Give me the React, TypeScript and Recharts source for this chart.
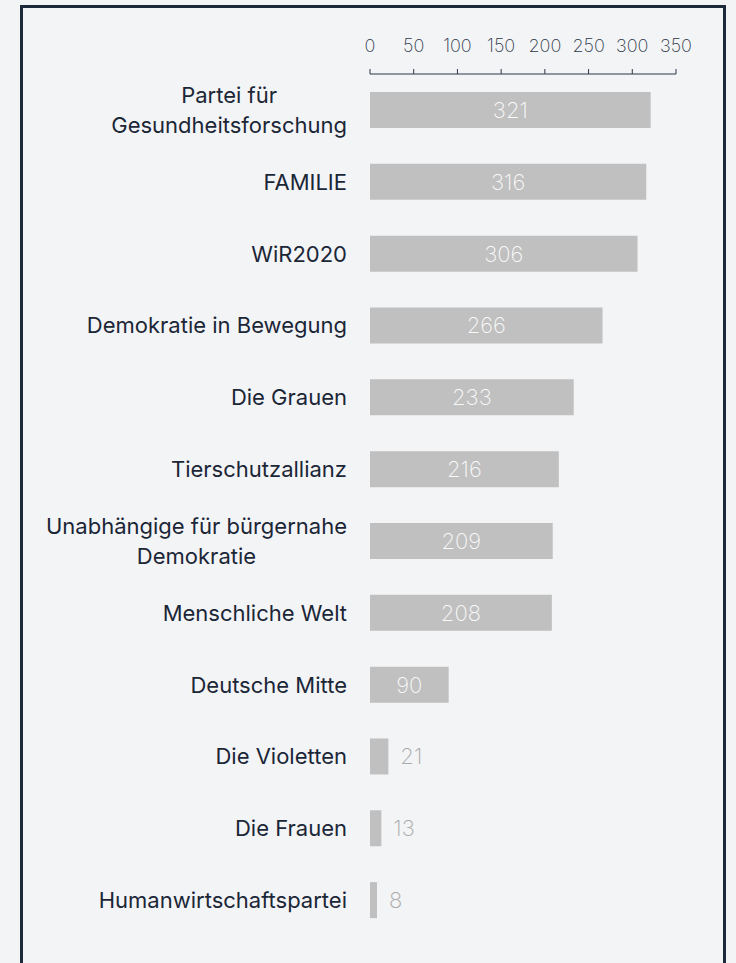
import React from 'react';
import { BarChart, Bar, XAxis, YAxis, LabelList } from 'recharts';

const parties = [
  'Partei für\nGesundheitsforschung',
  'FAMILIE',
  'WiR2020',
  'Demokratie in Bewegung',
  'Die Grauen',
  'Tierschutzallianz',
  'Unabhängige für bürgernahe\nDemokratie',
  'Menschliche Welt',
  'Deutsche Mitte',
  'Die Violetten',
  'Die Frauen',
  'Humanwirtschaftspartei',
];
const votes = [321, 316, 306, 266, 233, 216, 209, 208, 90, 21, 13, 8];
const axisTicks = [0, 50, 100, 150, 200, 250, 300, 350];

const data = parties.map((name, i) => ({ name, votes: votes[i] }));

const FONT = 'Inter, "Noto Sans", sans-serif';
const LABEL_SIZE = 22;
const LINE_H = 30;
const DARK = '#1b2636';

let ctx: CanvasRenderingContext2D | null = null;
const measure = (s: string) => {
  if (!ctx) ctx = document.createElement('canvas').getContext('2d');
  if (!ctx) return s.length * LABEL_SIZE * 0.55;
  ctx.font = `400 ${LABEL_SIZE}px Inter`;
  return ctx.measureText(s).width;
};

const PartyTick = ({ x, y, payload }: any) => {
  const lines: string[] = String(payload.value).split('\n');
  const capShift = LABEL_SIZE * 0.36;
  if (lines.length === 1) {
    return (
      <text x={x} y={y + capShift} textAnchor="end" fill={DARK} fontSize={LABEL_SIZE} fontFamily={FONT}>
        {lines[0]}
      </text>
    );
  }
  const blockW = Math.max(...lines.map(measure));
  const cx = x - blockW / 2;
  const startY = y - ((lines.length - 1) * LINE_H) / 2 + capShift;
  return (
    <text textAnchor="middle" fill={DARK} fontSize={LABEL_SIZE} fontFamily={FONT}>
      {lines.map((l, i) => (
        <tspan key={i} x={cx} y={startY + i * LINE_H}>
          {l}
        </tspan>
      ))}
    </text>
  );
};

const ValueLabel = ({ x, y, width, height, value }: any) => {
  const inside = width > 40;
  return (
    <text
      x={inside ? x + width / 2 : x + width + 12}
      y={y + height / 2 + 8}
      textAnchor={inside ? 'middle' : 'start'}
      fill={inside ? '#f9f9f9' : '#a9a9a9'}
      fontSize={22}
      fontWeight={200}
      fontFamily={FONT}
    >
      {value}
    </text>
  );
};

export default function App() {
  return (
    <div style={{ position: 'fixed', left: 0, top: 0, width: 736, height: 963, background: '#f3f4f6', overflow: 'hidden' }}>
      <div
        style={{
          position: 'absolute',
          left: 20,
          top: 5,
          width: 706,
          height: 1000,
          boxSizing: 'border-box',
          border: '3px solid #1c2a3a',
        }}
      />
      <div style={{ position: 'absolute', left: 0, top: 0 }}>
        <BarChart
          layout="vertical"
          width={736}
          height={963}
          data={data}
          margin={{ top: 0, right: 60, bottom: 27, left: 0 }}
          barCategoryGap="25%"
        >
          <XAxis
            type="number"
            orientation="top"
            domain={[0, 350]}
            ticks={axisTicks}
            interval={0}
            height={74}
            tickSize={5}
            tickMargin={17}
            axisLine={{ stroke: '#2d3748' }}
            tickLine={{ stroke: '#2d3748' }}
            tick={{ fill: '#2d3748', fontSize: 18, fontWeight: 200, fontFamily: FONT }}
          />
          <YAxis
            type="category"
            dataKey="name"
            width={370}
            axisLine={false}
            tickLine={false}
            tickMargin={17}
            interval={0}
            tick={<PartyTick />}
          />
          <Bar dataKey="votes" fill="#c0c0c0" isAnimationActive={false}>
            <LabelList dataKey="votes" content={<ValueLabel />} />
          </Bar>
        </BarChart>
      </div>
    </div>
  );
}
